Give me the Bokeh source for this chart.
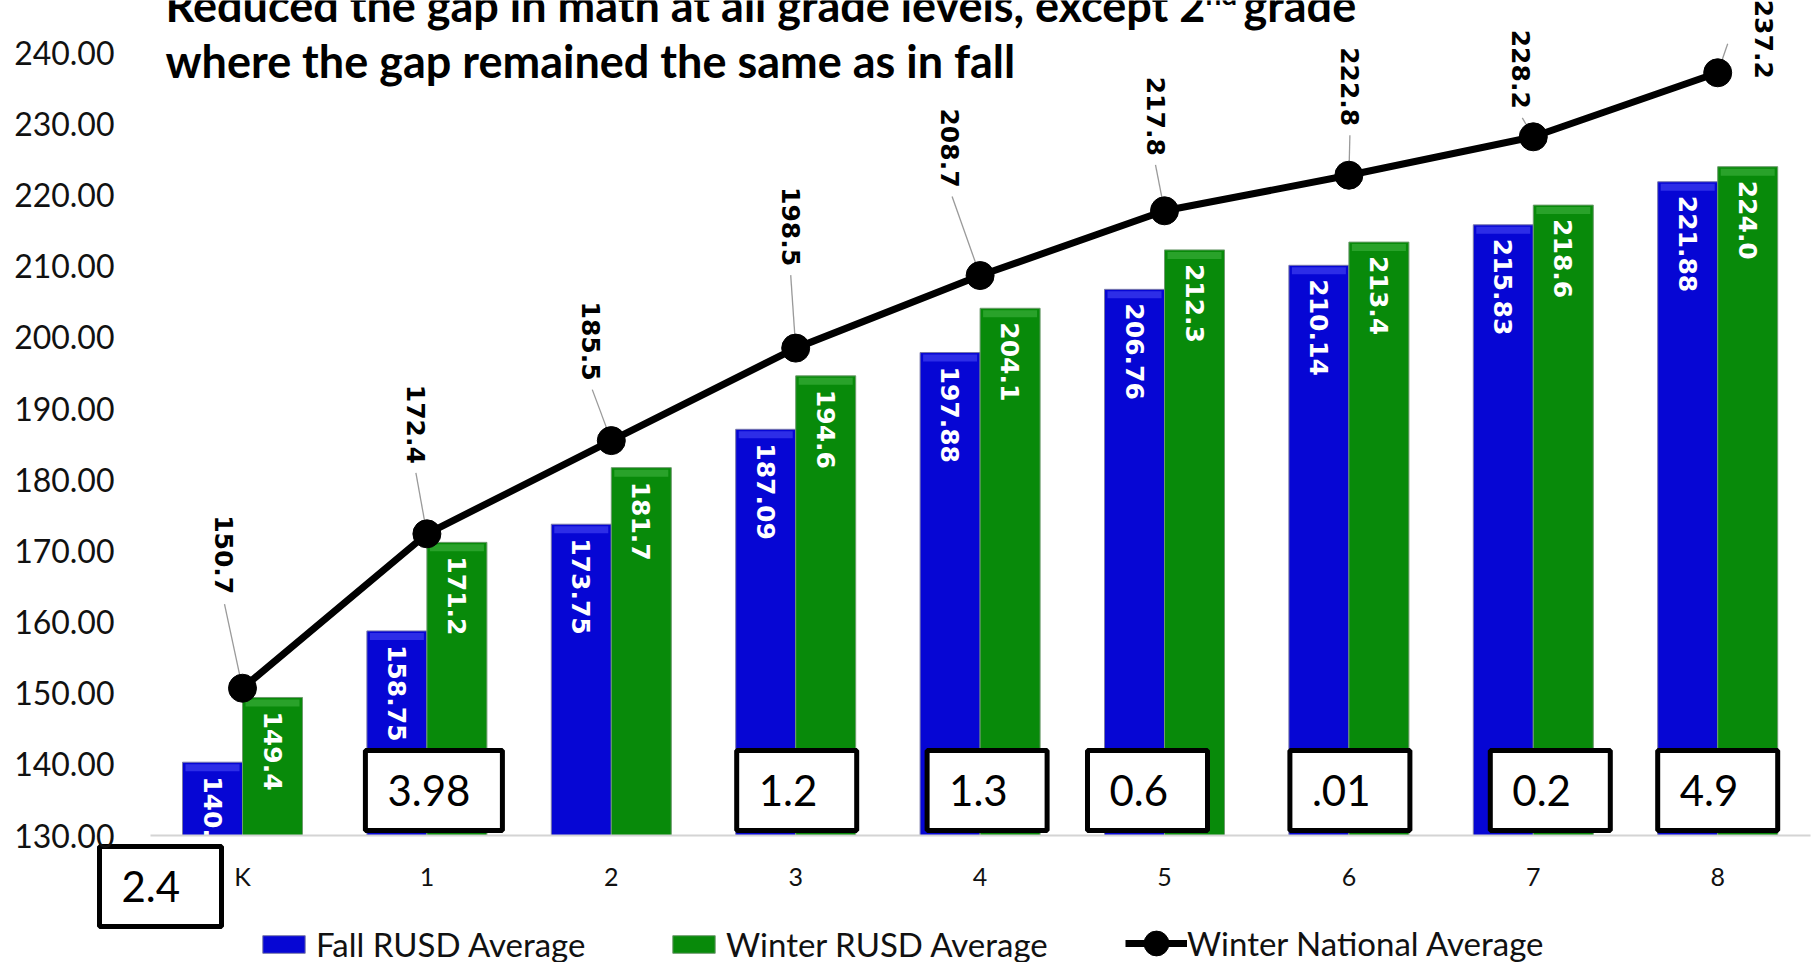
import numpy as np
from bokeh.plotting import figure
from bokeh.models import FixedTicker, Legend, LegendItem, Range1d, PrintfTickFormatter
from bokeh.core.properties import value
from bokeh.embed import file_html
from bokeh.resources import INLINE

# ---------------- data ----------------
grades = ["K", "1", "2", "3", "4", "5", "6", "7", "8"]
fall_rusd = [140.30, 158.75, 173.75, 187.09, 197.88, 206.76, 210.14, 215.83, 221.88]
winter_rusd = [149.4, 171.2, 181.7, 194.6, 204.1, 212.3, 213.4, 218.6, 224.0]
winter_national = [150.7, 172.4, 185.5, 198.5, 208.7, 217.8, 222.8, 228.2, 237.2]
gap_grades = ["K", "1", "3", "4", "5", "6", "7", "8"]
gap_labels = ["2.4", "3.98", "1.2", "1.3", "0.6", ".01", "0.2", "4.9"]
y_ticks = [130, 140, 150, 160, 170, 180, 190, 200, 210, 220, 230, 240]
series_names = ["Fall RUSD Average", "Winter RUSD Average", "Winter National Average"]
title_line1 = "Reduced the gap in math at all grade levels, except 2"
title_sup = "nd"
title_line1_end = "grade"
title_line2 = "where the gap remained the same as in fall"

# ---------------- layout (canvas pixels) ----------------
W, H = 1814, 962
PX_X0, PX_PER_X = 242.0, 184.4      # x of category 0, px per category
PX_Y0, PX_PER_Y = 835.0, 7.115      # y of value 130, px per unit
Y0 = 130.0

def X(sx):
    return (sx - PX_X0) / PX_PER_X

def Y(sy):
    return Y0 + (PX_Y0 - sy) / PX_PER_Y

def dX(px):
    return px / PX_PER_X

def dY(px):
    return px / PX_PER_Y

BLUE, BLUE_HI = "#0606d4", "#4848f4"
GREEN, GREEN_HI = "#088a0a", "#3fb33f"
FONT = "Lato"
LBL_FONT = "DejaVu Sans"

# national label offsets (px) of label end relative to marker, and leader end
nat_dx = [-19, -11, -20, -5, -30, -9, 1, -12, 46]
nat_dy = [-94, -70, -60, -82, -88, -55, -49, -28, 6]
lead_dx = [-18, -11, -19, -5, -28, -9, 1, -11, 10]
lead_dy = [-84, -61, -51, -73, -79, -46, -40, -19, -29]
# gap boxes
gap_box_dx = [-82, 7, 1, 7, -17, 1, 17, 0]
gap_box_sy = [886, 790, 790, 790, 790, 790, 790, 790]
gap_box_w = [122, 137, 120, 120, 120, 120, 120, 120]
BOX_H = 80

xs = np.arange(len(grades), dtype=float)
bar_w = dX(60)
off = bar_w / 2

p = figure(width=W, height=H, output_backend="svg", toolbar_location=None,
           x_range=Range1d(X(0), X(W)), y_range=Range1d(Y(H), Y(0)),
           min_border_left=0, min_border_right=0, min_border_top=0, min_border_bottom=0)
p.outline_line_color = None
p.xgrid.visible = False
p.ygrid.visible = False
p.background_fill_color = "white"

# axes
p.yaxis.fixed_location = X(150)
p.yaxis.ticker = FixedTicker(ticks=y_ticks)
p.yaxis.formatter = PrintfTickFormatter(format="%.2f")
p.yaxis.axis_line_color = None
p.yaxis.major_tick_line_color = None
p.yaxis.minor_tick_line_color = None
p.yaxis.major_label_standoff = 30
p.yaxis.major_label_text_font = FONT
p.yaxis.major_label_text_font_size = "32px"
p.yaxis.major_label_text_color = "#111111"

p.xaxis.fixed_location = Y0
p.xaxis.ticker = FixedTicker(ticks=list(range(len(grades))))
p.xaxis.major_label_overrides = {i: g for i, g in enumerate(grades)}
p.xaxis.bounds = (X(150), X(1810))
p.xaxis.axis_line_color = "#d4d4d4"
p.xaxis.axis_line_width = 2
p.xaxis.major_tick_line_color = None
p.xaxis.minor_tick_line_color = None
p.xaxis.major_label_standoff = 19
p.xaxis.major_label_text_font = FONT
p.xaxis.major_label_text_font_size = "25px"
p.xaxis.major_label_text_color = "#111111"

# bars
fall = np.array(fall_rusd)
wint = np.array(winter_rusd)
nat = np.array(winter_national)
rb = p.vbar(x=xs - off, top=fall, bottom=Y0, width=bar_w, fill_color=BLUE,
            line_color="#7a7aa8", line_width=1)
rg = p.vbar(x=xs + off, top=wint, bottom=Y0, width=bar_w, fill_color=GREEN,
            line_color="#6e9a6e", line_width=1)
p.vbar(x=xs - off, top=fall - dY(2), bottom=fall - dY(9), width=bar_w * 0.9,
       fill_color=BLUE_HI, fill_alpha=0.6, line_color=None)
p.vbar(x=xs + off, top=wint - dY(2), bottom=wint - dY(9), width=bar_w * 0.9,
       fill_color=GREEN_HI, fill_alpha=0.6, line_color=None)

p.text(x=xs - off, y=fall - dY(14), text=[f"{v:.2f}" for v in fall_rusd],
       angle=-np.pi / 2, text_align="left", text_baseline="middle",
       text_color="white", text_font=value(LBL_FONT), text_font_style="bold",
       text_font_size="25px")
p.text(x=xs + off, y=wint - dY(14), text=[f"{v:.1f}" for v in winter_rusd],
       angle=-np.pi / 2, text_align="left", text_baseline="middle",
       text_color="white", text_font=value(LBL_FONT), text_font_style="bold",
       text_font_size="25px")

# national line
rl = p.line(xs, nat, line_color="black", line_width=7)
p.segment(x0=xs + dX(np.array(lead_dx)), y0=nat - dY(np.array(lead_dy)), x1=xs, y1=nat,
          line_color="#9a9a9a", line_width=1.3)
rm = p.scatter(xs, nat, size=28, fill_color="black", line_color="black")
p.text(x=xs + dX(np.array(nat_dx)), y=nat - dY(np.array(nat_dy)),
       text=[f"{v:.1f}" for v in winter_national], angle=-np.pi / 2,
       text_align="right", text_baseline="middle", text_color="black",
       text_font=value(LBL_FONT), text_font_style="bold", text_font_size="25px")

# gap boxes
gi = np.array([grades.index(g) for g in gap_grades], dtype=float)
bx = gi + dX(np.array(gap_box_dx))
by = np.array([Y(s) for s in gap_box_sy])
bw = np.array(gap_box_w, dtype=float)
p.rect(x=bx, y=by, width=bw, height=BOX_H, width_units="screen", height_units="screen",
       fill_color="white", line_color="black", line_width=5)
p.text(x=bx - dX(bw / 2) + dX(22), y=by, text=gap_labels,
       text_align="left", text_baseline="alphabetic", text_color="black",
       text_font=value(FONT), text_font_size="42px")

# title
p.text(x=[X(165)], y=[Y(4)], text=[title_line1], text_align="left",
       text_baseline="alphabetic", text_font=value(FONT), text_font_style="bold",
       text_font_size="45px", text_color="black")
p.text(x=[X(1205)], y=[Y(-7)], text=[title_sup], text_align="left",
       text_baseline="alphabetic", text_font=value(FONT), text_font_style="bold",
       text_font_size="28px", text_color="black")
p.text(x=[X(1243)], y=[Y(4)], text=[title_line1_end], text_align="left",
       text_baseline="alphabetic", text_font=value(FONT), text_font_style="bold",
       text_font_size="45px", text_color="black")
p.text(x=[X(165)], y=[Y(60)], text=[title_line2], text_align="left",
       text_baseline="alphabetic", text_font=value(FONT), text_font_style="bold",
       text_font_size="45px", text_color="black")

# legends
leg_specs = [([rb], series_names[0], (257, -2), 53, 22, 6),
             ([rg], series_names[1], (667, -2), 53, 22, 6),
             ([rl, rm], series_names[2], (1125, -15), 62, 68, 0)]
for renderers, name, loc, gw, gh, so in leg_specs:
    lg = Legend(items=[LegendItem(label=name, renderers=renderers)], location=loc,
                orientation="horizontal", padding=0, margin=0, spacing=0,
                glyph_width=gw, glyph_height=gh, label_standoff=so, label_height=22,
                border_line_color=None, background_fill_alpha=0,
                label_text_font=FONT, label_text_font_size="33px", label_text_color="#111111")
    p.add_layout(lg)

open("out.html", "w").write(file_html(p, INLINE))
